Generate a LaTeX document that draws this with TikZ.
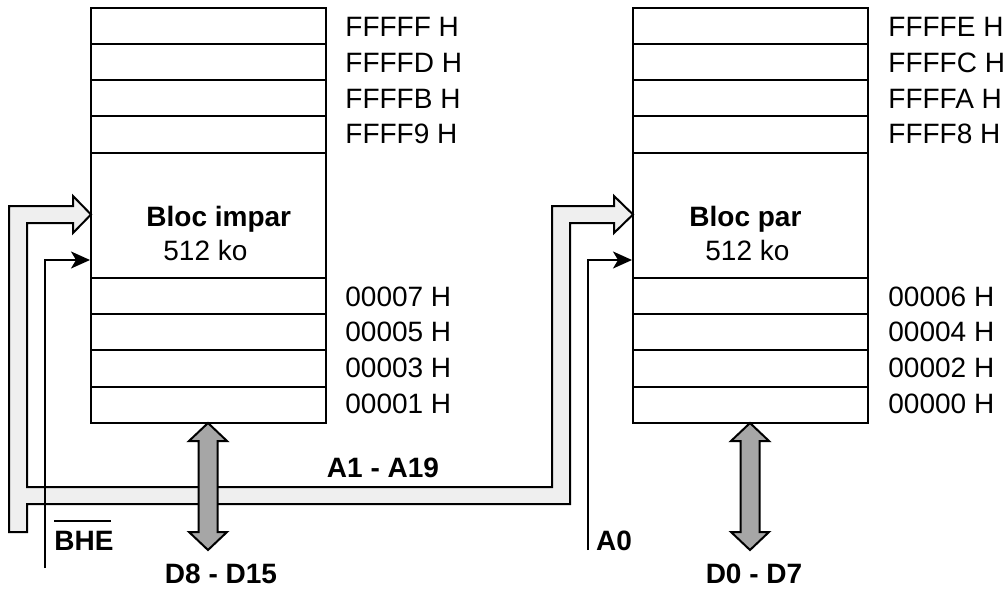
\documentclass[tikz,border=0pt]{standalone}
\usepackage{fontspec}
\setmainfont{Liberation Sans}
\usetikzlibrary{arrows.meta,positioning}
\definecolor{busgray}{HTML}{EFEFEF}
\definecolor{datagray}{HTML}{A6A6A6}

\begin{document}
\begin{tikzpicture}[x=0.5pt,y=-0.5pt,
  memblock/.style={draw,line width=1pt,inner sep=0pt,minimum width=117.5pt,minimum height=207.5pt},
  addr/.style={anchor=west,inner sep=0pt,font=\fontsize{14}{16}\selectfont},
  lbl/.style={inner sep=0pt,font=\fontsize{14}{16}\selectfont\bfseries},
  sig/.style={line width=1pt,-{Stealth[length=9.5pt,width=8.5pt,inset=2.5pt]}}]
  \useasboundingbox (0,0) rectangle (1007,594);
  % address bus A1 - A19
  \draw[line width=1pt,fill=busgray] (9,532) -- (9,206) -- (73,206) -- (73,196) -- (91,214.5) -- (73,233) -- (73,223) -- (27,223) -- (27,487) -- (552,487) -- (552,206) -- (614,206) -- (614,196) -- (633,214.5) -- (614,233) -- (614,223) -- (570,223) -- (570,504) -- (27,504) -- (27,532) -- cycle;
  % data buses
  \foreach \cx in {208,750}{\draw[line width=1pt,fill=datagray] (\cx,423) -- (\cx+19,441) -- (\cx+9.5,441) -- (\cx+9.5,532) -- (\cx+19,532) -- (\cx,550) -- (\cx-19,532) -- (\cx-9.5,532) -- (\cx-9.5,441) -- (\cx-19,441) -- cycle;}
  % memory blocks
  \node[memblock] (impar) at (208.5,215.5) {};
  \node[memblock] (par) at (750.5,215.5) {};
  \foreach \ry in {44,80,116,153,278,314,350,387}{
    \draw[line width=0.75pt] (impar.west |- 0,\ry) -- (impar.east |- 0,\ry);
    \draw[line width=0.75pt] (par.west |- 0,\ry) -- (par.east |- 0,\ry);}
  \node[lbl,anchor=base west] (impartitle) at (146,226) {Bloc impar};
  \node[addr,anchor=base west] (imparsize) at (163,260) {512 ko};
  \node[lbl,anchor=base west] (partitle) at (689,226) {Bloc par};
  \node[addr,anchor=base west] (parsize) at (705,260) {512 ko};
  % addresses
  \foreach \lab/\ly [count=\i] in {FFFFF H/27,FFFFD H/63,FFFFB H/99,FFFF9 H/134,00007 H/297,00005 H/332,00003 H/368,00001 H/404}{\node[addr] (impadr\i) at (345,\ly) {\lab};}
  \foreach \lab/\ly [count=\i] in {FFFFE H/27,FFFFC H/63,FFFFA H/99,FFFF8 H/134,00006 H/297,00004 H/332,00002 H/368,00000 H/404}{\node[addr] (paradr\i) at (888,\ly) {\lab};}
  % control signals
  \coordinate (bhefoot) at (45,568);
  \coordinate (afoot) at (588,550);
  \draw[sig] (bhefoot) |- (impar.west |- 0,260);
  \draw[sig] (afoot) |- (par.west |- 0,260);
  \node[lbl] (bhe) at (84,541) {BHE};
  \draw[line width=1pt] ([yshift=5pt]bhe.north west) -- ([yshift=5pt,xshift=-1.5pt]bhe.north east);
  \node[lbl] (azero) at (614,541) {A0};
  % bus labels
  \node[lbl] (abus) at (383,468) {A1 - A19};
  \node[lbl] (dhigh) at (221,574) {D8 - D15};
  \node[lbl] (dlow) at (754,574) {D0 - D7};
\end{tikzpicture}
\end{document}
